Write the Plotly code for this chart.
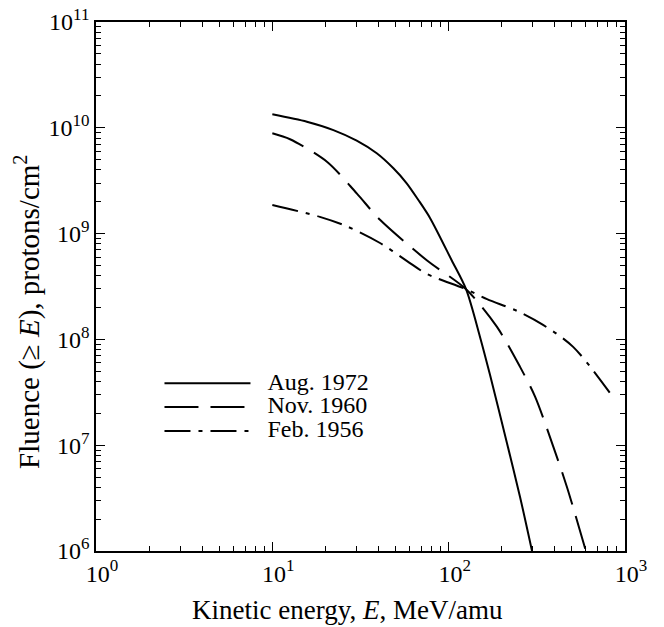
import plotly.graph_objects as go

# Aug. 1972 (solid)
aug_E = [10, 15.7, 22.2, 30.1, 39.1, 48.6, 57.8, 67.3, 78.5, 104, 125.5, 150.7, 171.7, 214, 254, 297]
aug_F = [1.34e10, 1.14e10, 9.5e9, 7.55e9, 5.74e9, 4.14e9, 2.99e9, 2.08e9, 1.40e9, 5.6e8, 2.98e8, 1.05e8, 4.6e7, 1.05e7, 3.24e6, 1.0e6]

# Nov. 1960 (dashed)
nov_E = [10, 12.6, 20.4, 30.1, 40.8, 75.1, 125.5, 187.5, 254, 309, 392, 468, 600]
nov_F = [8.87e9, 7.8e9, 4.78e9, 2.40e9, 1.35e9, 5.6e8, 2.98e8, 1.32e8, 5.5e7, 2.88e7, 9.7e6, 4.05e6, 1.0e6]

# Feb. 1956 (dash-dot)
feb_E = [10, 18.6, 26.5, 40.8, 58.1, 75.4, 125.5, 165, 244, 343, 508, 823]
feb_F = [1.86e9, 1.44e9, 1.17e9, 8.15e8, 5.5e8, 4.15e8, 2.98e8, 2.40e8, 1.86e8, 1.37e8, 8.5e7, 3.1e7]

series_names = ["Aug. 1972", "Nov. 1960", "Feb. 1956"]

x_exps = [0, 1, 2, 3]
y_exps = [6, 7, 8, 9, 10, 11]

x_title = "Kinetic energy, <i>E</i>, MeV/amu"
y_title = "Fluence (≥ <i>E</i>), protons/cm<sup>2</sup>"

FONT = "Liberation Serif"


def pow_label(e):
    return f"10<sup><span style='font-size:17px'>{e}</span></sup>"


def legend_label(s):
    return f"<span style='font-size:24px'>&nbsp;&nbsp;{s}</span>"


fig = go.Figure()
fig.add_trace(go.Scatter(x=aug_E, y=aug_F, mode="lines", name=legend_label(series_names[0]),
                         line=dict(color="black", width=2, shape="spline", smoothing=0.8)))
fig.add_trace(go.Scatter(x=nov_E, y=nov_F, mode="lines", name=legend_label(series_names[1]),
                         line=dict(color="black", width=2, dash="34px,12px", shape="spline", smoothing=0.8)))
fig.add_trace(go.Scatter(x=feb_E, y=feb_F, mode="lines", name=legend_label(series_names[2]),
                         line=dict(color="black", width=2, dash="26px,8px,4px,8px", shape="spline", smoothing=0.9)))

axis_common = dict(
    type="log", automargin=False,
    showline=True, linecolor="black", linewidth=1.5, mirror="ticks",
    ticks="inside", ticklen=9, tickwidth=1.3, tickcolor="black",
    showgrid=False, zeroline=False, ticklabeloverflow="allow",
    minor=dict(ticks="inside", ticklen=5, tickwidth=1, tickcolor="black", dtick="D1", showgrid=False),
    tickfont=dict(family=FONT, size=24, color="black"),
)

fig.update_xaxes(range=[0, 3], tickvals=[10 ** e for e in x_exps], ticktext=[pow_label(e) for e in x_exps],
                 ticklabelshift=6, **axis_common)
fig.update_yaxes(range=[6, 11], tickvals=[10 ** e for e in y_exps], ticktext=[pow_label(e) for e in y_exps],
                 **axis_common)

fig.add_annotation(text=x_title, xref="paper", yref="paper", x=0.4745, y=-0.1115,
                   xanchor="center", yanchor="middle", showarrow=False,
                   font=dict(family=FONT, size=27, color="black"))
fig.add_annotation(text=y_title, xref="paper", yref="paper", x=-0.1285, y=0.452,
                   xanchor="center", yanchor="middle", textangle=-90, showarrow=False,
                   font=dict(family=FONT, size=29, color="black"))

fig.update_layout(
    width=664, height=627,
    margin=dict(l=88, r=47, t=14, b=84),
    paper_bgcolor="white", plot_bgcolor="white",
    showlegend=True,
    legend=dict(x=0.120, y=0.349, xanchor="left", yanchor="top",
                font=dict(family=FONT, size=16, color="black"),
                bgcolor="rgba(0,0,0,0)", itemwidth=86, tracegroupgap=0),
)

fig.write_html("out.html")
